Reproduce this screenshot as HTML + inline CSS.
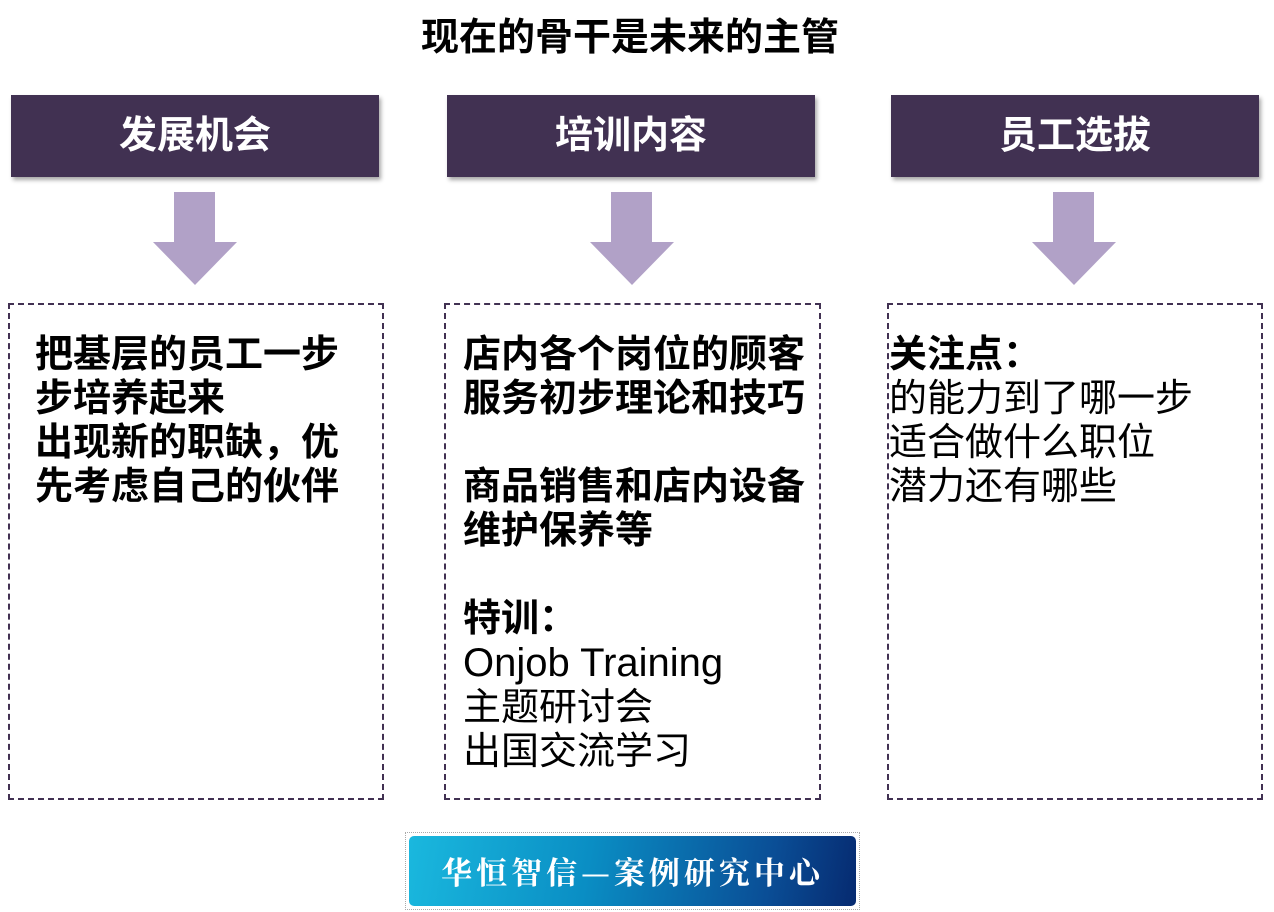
<!DOCTYPE html>
<html><head><meta charset="utf-8"><style>
body{margin:0;width:1274px;height:912px;background:#fff;position:relative;overflow:hidden;font-family:"Liberation Sans","Noto Sans CJK SC",sans-serif}
.a{position:absolute}
.title{left:0;width:1260px;top:14px;text-align:center;font-size:38px;font-weight:bold;line-height:48px}
.hd{background:#413152;color:#fff;font-size:38px;font-weight:bold;text-align:center;line-height:82px;height:82px;top:95px;width:368px;box-shadow:2px 3px 4px rgba(0,0,0,.35)}
.box{border:2px dashed #413152;top:303px;box-sizing:border-box;height:497px}
.txt{font-size:38px;line-height:44px;color:#000;white-space:nowrap}
b{font-weight:bold}
</style></head><body>
<div class="a title">现在的骨干是未来的主管</div>
<div class="a hd" style="left:11px">发展机会</div>
<div class="a hd" style="left:447px">培训内容</div>
<div class="a hd" style="left:891px">员工选拔</div>
<svg class="a" style="left:0;top:0" width="1274" height="300">
<g fill="#b1a1c7">
<polygon points="174,192 215,192 215,242 237,242 195,285 153,242 174,242"/>
<polygon points="611,192 652,192 652,242 674,242 632,285 590,242 611,242"/>
<polygon points="1053,192 1094,192 1094,242 1116,242 1074,285 1032,242 1053,242"/>
</g></svg>
<div class="a box" style="left:8px;width:376px"></div>
<div class="a box" style="left:444px;width:377px"></div>
<div class="a box" style="left:887px;width:376px"></div>
<div class="a txt" style="left:35px;top:333px;font-weight:bold">把基层的员工一步<br>步培养起来<br>出现新的职缺，优<br>先考虑自己的伙伴</div>
<div class="a txt" style="left:463px;top:333px"><b>店内各个岗位的顾客<br>服务初步理论和技巧<br><br>商品销售和店内设备<br>维护保养等<br><br>特训：</b><br><span style="font-size:40px">Onjob Training</span><br>主题研讨会<br>出国交流学习</div>
<div class="a txt" style="left:889px;top:333px"><b>关注点：</b><br>的能力到了哪一步<br>适合做什么职位<br>潜力还有哪些</div>
<div class="a" style="left:405px;top:832px;width:455px;height:78px;border:1px dotted #aaa;box-sizing:border-box;padding:3px">
<div style="height:100%;border-radius:5px;background:linear-gradient(100deg,#1ab8de 0%,#0a8ec4 40%,#0a4e96 80%,#062a70 100%);color:#fff;text-align:center;font-family:'Noto Serif CJK SC',serif;font-weight:bold;font-size:31px;line-height:70px;letter-spacing:4px">华恒智信—案例研究中心</div></div>
</body></html>
